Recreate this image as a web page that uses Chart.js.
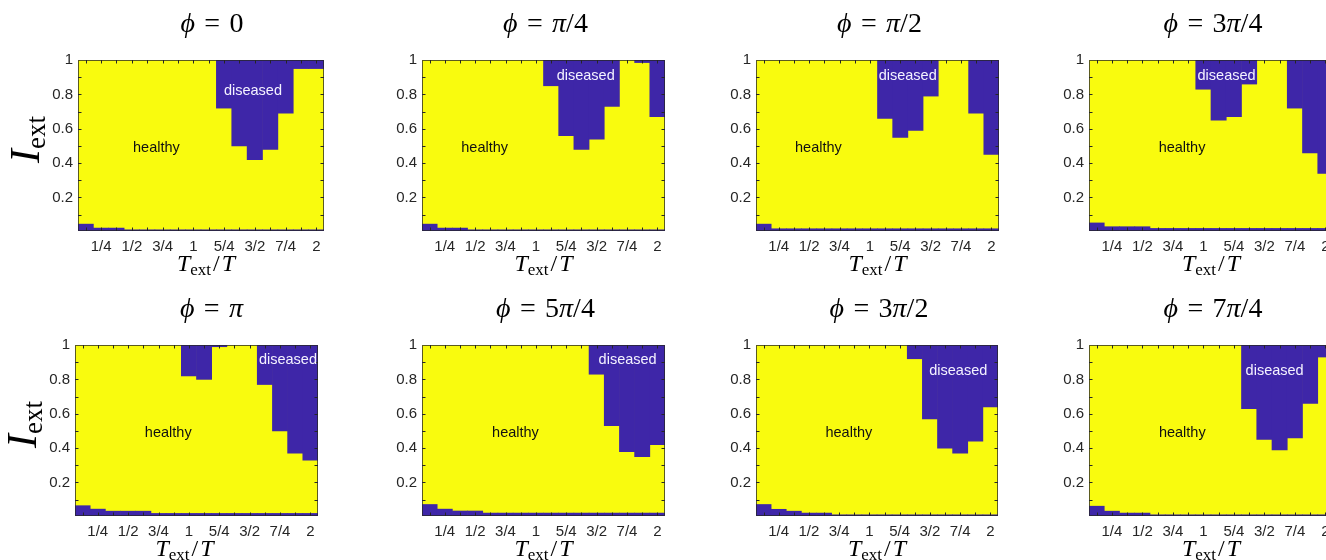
<!DOCTYPE html>
<html>
<head>
<meta charset="utf-8">
<script src="https://cdn.jsdelivr.net/npm/chart.js@4.4.1/dist/chart.umd.min.js"></script>
<style>
  html, body { margin: 0; padding: 0; background: #fff; overflow: hidden; }
  body { width: 1326px; height: 560px; position: relative; }
  canvas { position: absolute; }
</style>
</head>
<body>
<script>
// T_ext/T grid, one cell per 1/8
const tValues = ['1/8', '1/4', '3/8', '1/2', '5/8', '3/4', '7/8', '1', '9/8', '5/4', '11/8', '3/2', '13/8', '7/4', '15/8', '2'];
const yTicks = [0.2, 0.4, 0.6, 0.8, 1];
const yMarks = [0.1, 0.2, 0.3, 0.4, 0.5, 0.6, 0.7, 0.8, 0.9];
const yMin = 0.005;

const titles = ['ϕ = 0', 'ϕ = π/4', 'ϕ = π/2', 'ϕ = 3π/4', 'ϕ = π', 'ϕ = 5π/4', 'ϕ = 3π/2', 'ϕ = 7π/4'];

// lower edge of the diseased region hanging from I_ext = 1 (null = healthy up to the top)
const upper0 = [null, null, null, null, null, null, null, null, null, 0.72, 0.50, 0.42, 0.48, 0.69, 0.95, 0.95];
const upper1 = [null, null, null, null, null, null, null, null, 0.85, 0.56, 0.48, 0.54, 0.73, null, 0.985, 0.67];
const upper2 = [null, null, null, null, null, null, null, null, 0.66, 0.55, 0.59, 0.79, null, null, 0.69, 0.45];
const upper3 = [null, null, null, null, null, null, null, 0.83, 0.65, 0.67, 0.86, null, null, 0.72, 0.46, 0.34];
const upper4 = [null, null, null, null, null, null, null, 0.82, 0.80, 0.99, null, null, 0.77, 0.50, 0.37, 0.33];
const upper5 = [null, null, null, null, null, null, null, null, null, null, null, 0.83, 0.53, 0.38, 0.35, 0.42];
const upper6 = [null, null, null, null, null, null, null, null, null, null, 0.92, 0.57, 0.40, 0.37, 0.44, 0.64];
const upper7 = [null, null, null, null, null, null, null, null, null, null, 0.63, 0.45, 0.39, 0.46, 0.66, 0.93];

// top of the thin diseased strip along the bottom
const lower0 = [0.045, 0.022, 0.022, 0.012, 0.012, 0.012, 0.012, 0.012, 0.012, 0.012, 0.012, 0.012, 0.012, 0.012, 0.012, 0.012];
const lower1 = [0.045, 0.022, 0.022, 0.012, 0.012, 0.012, 0.012, 0.012, 0.012, 0.012, 0.012, 0.012, 0.012, 0.012, 0.012, 0.012];
const lower2 = [0.045, 0.018, 0.018, 0.018, 0.018, 0.018, 0.018, 0.018, 0.018, 0.018, 0.018, 0.018, 0.018, 0.018, 0.018, 0.018];
const lower3 = [0.052, 0.030, 0.030, 0.030, 0.020, 0.020, 0.020, 0.020, 0.020, 0.020, 0.020, 0.020, 0.020, 0.020, 0.020, 0.020];
const lower4 = [0.065, 0.045, 0.033, 0.033, 0.033, 0.020, 0.020, 0.020, 0.020, 0.020, 0.020, 0.020, 0.020, 0.020, 0.020, 0.020];
const lower5 = [0.072, 0.045, 0.034, 0.034, 0.022, 0.022, 0.022, 0.022, 0.022, 0.022, 0.022, 0.022, 0.022, 0.022, 0.022, 0.022];
const lower6 = [0.072, 0.044, 0.033, 0.022, 0.022, 0.012, 0.012, 0.012, 0.012, 0.012, 0.012, 0.012, 0.012, 0.012, 0.012, 0.012];
const lower7 = [0.062, 0.033, 0.022, 0.022, 0.012, 0.012, 0.012, 0.012, 0.012, 0.012, 0.012, 0.012, 0.012, 0.012, 0.012, 0.012];

const uppers = [upper0, upper1, upper2, upper3, upper4, upper5, upper6, upper7];
const lowers = [lower0, lower1, lower2, lower3, lower4, lower5, lower6, lower7];

// where the region names sit, in (T_ext/T, I_ext)
const healthyAt = [[0.70, 0.49], [0.578, 0.49], [0.576, 0.49], [0.825, 0.49], [0.83, 0.486], [0.832, 0.486], [0.83, 0.49], [0.827, 0.49]];
const diseasedAt = [[1.485, 0.82], [1.41, 0.907], [1.311, 0.907], [1.19, 0.907], [1.815, 0.912], [1.755, 0.912], [1.734, 0.851], [1.584, 0.851]];

// plot boxes on the page: left, top, width
const boxes = [[78, 60, 246], [422, 60, 243], [756, 60, 243], [1089, 60, 244],
               [75, 345, 243], [422, 345, 243], [756, 345, 242], [1089, 345, 244]];
const boxH = 171;
const titleShift = [11, 2, 2, 2, 15, 2, 2, 2];
const xlabShift = [5, 0, 0, 0, -12, 0, 0, 0];

const YELLOW = '#f9fb0e';
const BLUE = '#3e26a8';
const INK = '#262626';
const SANS = '"Liberation Sans", Arial, sans-serif';
const SERIF = '"Liberation Serif", "DejaVu Serif", serif';

function drawRich(ctx, parts, cx, base) {
  let w = 0;
  parts.forEach(p => { ctx.font = p[1]; w += ctx.measureText(p[0]).width; });
  let x = cx - w / 2;
  parts.forEach(p => {
    ctx.font = p[1];
    ctx.fillText(p[0], x, base + (p[2] || 0));
    x += ctx.measureText(p[0]).width;
  });
}

function titleParts(str) {
  const parts = [];
  for (const ch of str) {
    if (ch === 'ϕ' || ch === 'π') parts.push([ch, 'italic 28px ' + SERIF]);
    else if (ch === '=') parts.push(['\u2004=\u2004', '28px ' + SERIF]);
    else if (ch !== ' ') parts.push([ch, '28px ' + SERIF]);
  }
  return parts;
}

function panelPlugin(i) {
  return {
    id: 'panel' + i,
    beforeDatasetsDraw(chart) {
      const { ctx, chartArea: a } = chart;
      ctx.save();
      ctx.fillStyle = YELLOW;
      ctx.fillRect(a.left, a.top, a.width, a.height);
      ctx.restore();
    },
    afterDatasetsDraw(chart) {
      const { ctx, chartArea: a, scales: { x, y } } = chart;
      ctx.save();
      // inward ticks on all four sides
      ctx.strokeStyle = INK;
      ctx.lineWidth = 1;
      ctx.beginPath();
      tValues.forEach((_, k) => {
        const px = Math.round(x.getPixelForValue(k)) + 0.5;
        ctx.moveTo(px, a.bottom); ctx.lineTo(px, a.bottom - 3.5);
        ctx.moveTo(px, a.top); ctx.lineTo(px, a.top + 3.5);
      });
      yMarks.forEach(v => {
        const py = Math.round(y.getPixelForValue(v)) + 0.5;
        ctx.moveTo(a.left, py); ctx.lineTo(a.left + 3.5, py);
        ctx.moveTo(a.right, py); ctx.lineTo(a.right - 3.5, py);
      });
      ctx.stroke();
      ctx.strokeStyle = 'rgba(38,38,38,0.75)';
      ctx.strokeRect(a.left + 0.5, a.top + 0.5, a.width - 1, a.height - 1);

      // region names
      ctx.font = '14.5px ' + SANS;
      ctx.textAlign = 'center';
      ctx.textBaseline = 'middle';
      ctx.fillStyle = '#111';
      ctx.fillText('healthy', x.getPixelForValue(healthyAt[i][0] * 8 - 1), y.getPixelForValue(healthyAt[i][1]));
      ctx.fillStyle = '#f4f2ff';
      ctx.fillText('diseased', x.getPixelForValue(diseasedAt[i][0] * 8 - 1), y.getPixelForValue(diseasedAt[i][1]));

      // title and axis labels
      ctx.textAlign = 'left';
      ctx.textBaseline = 'alphabetic';
      ctx.fillStyle = '#000';
      const cx = (a.left + a.right) / 2;
      drawRich(ctx, titleParts(titles[i]), cx + titleShift[i], a.top - 28);
      drawRich(ctx, [
        ['T', 'italic 24px ' + SERIF],
        ['ext', '17px ' + SERIF, 4],
        ['\u200a/\u200a', '24px ' + SERIF],
        ['T', 'italic 24px ' + SERIF]
      ], cx + xlabShift[i], a.bottom + 40);
      if (i % 4 === 0) {
        ctx.translate(a.left - 39, (a.top + a.bottom) / 2 - 6);
        ctx.rotate(-Math.PI / 2);
        drawRich(ctx, [
          ['I', 'italic 42px ' + SERIF],
          ['ext', '27px ' + SERIF, 6]
        ], 0, 0);
      }
      ctx.restore();
    }
  };
}

function makePanel(i) {
  const [bx, by, bw] = boxes[i];
  const cv = document.createElement('canvas');
  cv.width = bw + 72 + 10;
  cv.height = boxH + 60 + 46;
  cv.style.left = (bx - 72) + 'px';
  cv.style.top = (by - 60) + 'px';
  document.body.appendChild(cv);

  const tickFont = { family: SANS, size: 15 };
  new Chart(cv, {
    type: 'bar',
    data: {
      labels: tValues,
      datasets: [
        { label: 'diseased (low)', data: lowers[i].map(v => [yMin, v]), backgroundColor: BLUE },
        { label: 'diseased (high)', data: uppers[i].map(v => v === null ? null : [v, 1]), backgroundColor: BLUE }
      ]
    },
    options: {
      responsive: false,
      animation: false,
      layout: { padding: { top: 60, right: 10, left: 0, bottom: 0 } },
      plugins: { legend: { display: false }, tooltip: { enabled: false }, title: { display: false } },
      datasets: { bar: { categoryPercentage: 1, barPercentage: 1, grouped: false, borderWidth: 0 } },
      scales: {
        x: {
          grid: { display: false, drawTicks: false },
          border: { display: false },
          ticks: {
            autoSkip: false, maxRotation: 0, padding: 7, color: INK, font: tickFont,
            callback: (v, k) => k % 2 ? tValues[k] : ''
          },
          afterFit: s => { s.height = 46; }
        },
        y: {
          min: yMin, max: 1,
          grid: { display: false, drawTicks: false },
          border: { display: false },
          afterBuildTicks: s => { s.ticks = yTicks.map(v => ({ value: v })); },
          ticks: { padding: 5, color: INK, font: tickFont, callback: v => String(v) },
          afterFit: s => { s.width = 72; }
        }
      }
    },
    plugins: [panelPlugin(i)]
  });
}

for (let i = 0; i < 8; i++) makePanel(i);
</script>
</body>
</html>
